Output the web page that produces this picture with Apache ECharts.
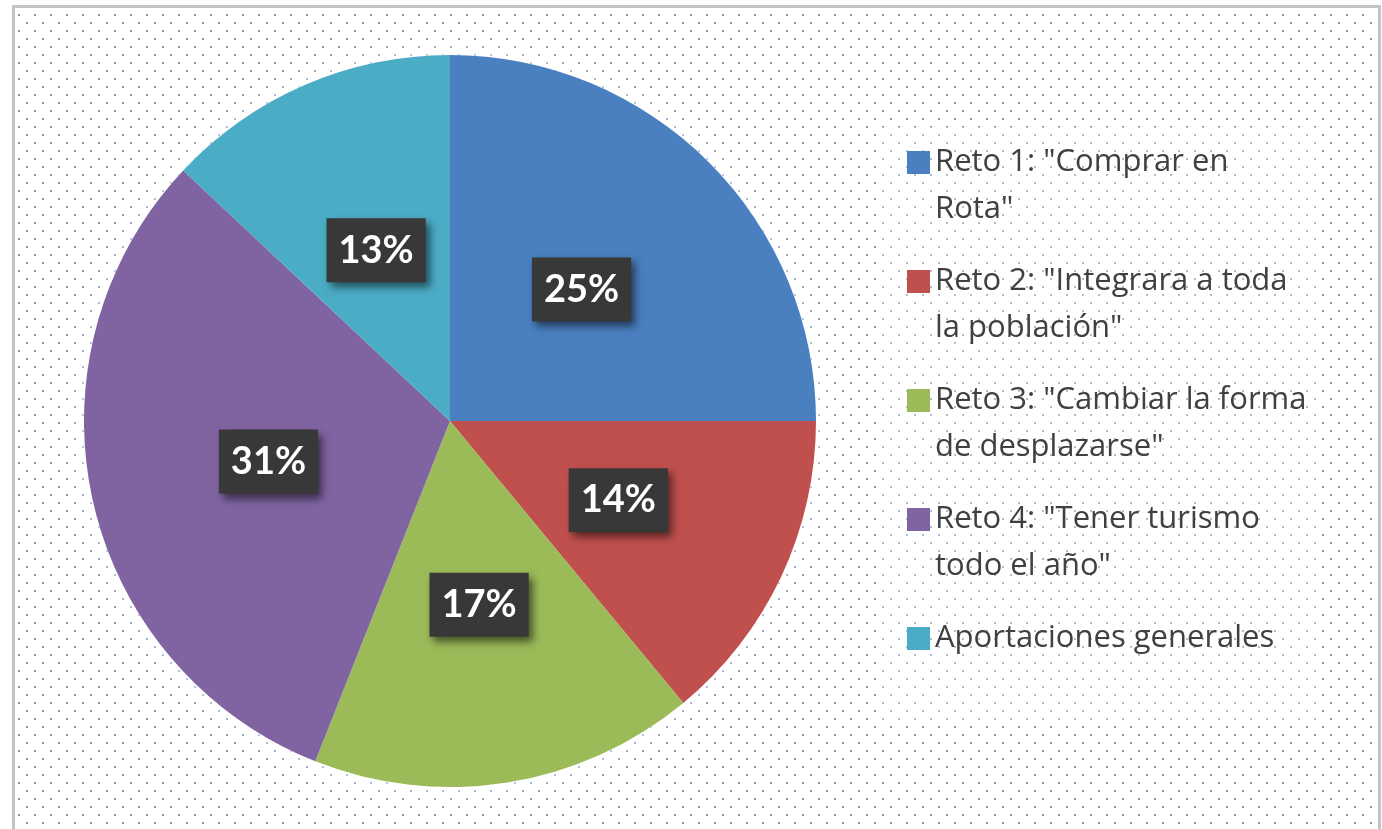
<!DOCTYPE html>
<html>
<head>
<meta charset="utf-8">
<script src="https://cdn.jsdelivr.net/npm/echarts@6/dist/echarts.min.js"></script>
<style>
  html, body { margin: 0; padding: 0; width: 1382px; height: 829px; overflow: hidden; background: #ffffff; }
  #frame {
    position: absolute; left: 12px; top: 5px; width: 1369px; height: 840px;
    box-sizing: border-box;
    border: 3px solid #c4c4c4; border-bottom: none;
    background-color: #ffffff;
    background-image:
      radial-gradient(circle at center, rgba(95,115,170,0.75) 0, rgba(95,115,170,0.75) 0.8px, rgba(95,115,170,0) 1.5px),
      radial-gradient(circle at center, rgba(95,115,170,0.75) 0, rgba(95,115,170,0.75) 0.8px, rgba(95,115,170,0) 1.5px);
    background-size: 16px 16px, 16px 16px;
    background-position: -4px -1px, 4px 7px;
  }
  #chart { position: absolute; left: 0; top: 0; width: 1382px; height: 829px; }
</style>
</head>
<body>
<div id="frame"></div>
<div id="chart"></div>
<script>
// Participación por reto
const categories = [
  'Reto 1: "Comprar en Rota"',
  'Reto 2: "Integrara a toda la población"',
  'Reto 3: "Cambiar la forma de desplazarse"',
  'Reto 4: "Tener turismo todo el año"',
  'Aportaciones generales'
];
// legend text, broken over two lines
const legendLines = {
  'Reto 1: "Comprar en Rota"': 'Reto 1: "Comprar en\nRota"',
  'Reto 2: "Integrara a toda la población"': 'Reto 2: "Integrara a toda\nla población"',
  'Reto 3: "Cambiar la forma de desplazarse"': 'Reto 3: "Cambiar la forma\nde desplazarse"',
  'Reto 4: "Tener turismo todo el año"': 'Reto 4: "Tener turismo\ntodo el año"',
  'Aportaciones generales': 'Aportaciones generales\n'
};
const values = [25, 14, 17, 31, 13];
const colors = ['#4a7fc0', '#c0504d', '#9bbb59', '#8064a2', '#4bacc6'];

const chart = echarts.init(document.getElementById('chart'), null, { renderer: 'canvas' });

// square swatch sitting at the top of a tall legend cell
const swatch = 'path://M0,0H23V23H0Z M0,69.99L0.01,70L0,70Z';

const center = [450, 421];
const radius = 366;

chart.setOption({
  backgroundColor: 'transparent',
  animation: false,
  legend: {
    orient: 'vertical',
    left: 880,
    top: 127,
    padding: [12, 12, 13, 27],
    backgroundColor: 'rgba(255,255,255,0.35)',
    itemWidth: 23,
    itemHeight: 70,
    itemGap: 25,
    icon: swatch,
    data: categories,
    formatter: name => legendLines[name],
    itemStyle: { borderWidth: 0 },
    textStyle: {
      fontFamily: 'Open Sans',
      fontSize: 31,
      lineHeight: 47,
      color: '#404040'
    },
    selectedMode: false
  },
  series: [
    {
      // soft white halo behind the pie
      type: 'pie',
      silent: true,
      center: center,
      radius: radius,
      z: 1,
      label: { show: false },
      labelLine: { show: false },
      itemStyle: {
        color: '#ffffff',
        borderWidth: 0,
        shadowBlur: 22,
        shadowColor: 'rgba(255,255,255,1)'
      },
      data: [{ name: '', value: 1 }]
    },
    {
      type: 'pie',
      center: center,
      radius: radius,
      startAngle: 90,
      clockwise: true,
      z: 2,
      avoidLabelOverlap: false,
      itemStyle: { borderWidth: 0 },
      emphasis: { disabled: true },
      label: {
        show: true,
        position: 'inside',
        formatter: p => p.value + '%',
        fontFamily: 'Lato',
        fontWeight: 'bold',
        fontSize: 38,
        lineHeight: 40,
        color: '#ffffff',
        backgroundColor: '#383838',
        padding: [12, 12, 12, 12],
        shadowColor: 'rgba(0,0,0,0.55)',
        shadowBlur: 8,
        shadowOffsetX: 4,
        shadowOffsetY: 5
      },
      labelLine: { show: false },
      data: categories.map((name, i) => ({
        name: name,
        value: values[i],
        itemStyle: { color: colors[i] }
      }))
    }
  ]
});
</script>
</body>
</html>
